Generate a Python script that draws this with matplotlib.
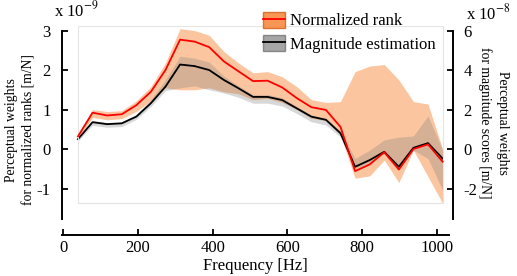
import numpy as np
import matplotlib
matplotlib.use('Agg')
import matplotlib.pyplot as plt
from matplotlib.patches import Rectangle, Patch
from matplotlib.lines import Line2D

plt.rcParams['font.family'] = ['Liberation Serif', 'DejaVu Serif']
plt.rcParams['mathtext.fontset'] = 'stix'
plt.rcParams['axes.unicode_minus'] = False

# Frequencies [Hz]
freq = [40, 79, 118, 157, 196, 235, 274, 313, 352, 391, 430, 469, 508,
        547, 586, 625, 664, 703, 742, 781, 820, 859, 898, 937, 976, 1015]

# Normalized rank weights (x 1e-9 m/N), left axis
rank_mean = [0.32, 0.92, 0.85, 0.88, 1.11, 1.45, 2.00, 2.77, 2.72, 2.58, 2.22, 1.97, 1.72,
             1.73, 1.56, 1.29, 1.06, 0.99, 0.56, -0.56, -0.39, -0.08, -0.52, 0.00, 0.12, -0.32]
rank_hi = [0.37, 1.00, 0.95, 0.97, 1.22, 1.58, 2.18, 3.05, 3.00, 2.88, 2.47, 2.18, 1.93,
           1.96, 1.83, 1.58, 1.25, 1.18, 1.20, 1.96, 2.10, 2.14, 1.75, 1.20, 1.14, 0.00]
rank_lo = [0.27, 0.80, 0.74, 0.77, 0.95, 1.22, 1.55, 1.50, 1.50, 1.55, 1.45, 1.40, 1.25,
           1.28, 1.18, 1.00, 0.78, 0.72, 0.35, -0.74, -0.68, -0.28, -0.85, -0.03, -0.70, -1.37]

# Magnitude estimation weights (x 1e-8 m/N), right axis
mag_mean = [0.50, 1.36, 1.26, 1.30, 1.64, 2.32, 3.16, 4.28, 4.20, 4.00, 3.50, 3.08, 2.64,
            2.64, 2.48, 2.06, 1.64, 1.48, 0.80, -0.90, -0.56, -0.14, -0.90, 0.06, 0.30, -0.48]
mag_hi = [0.56, 1.44, 1.34, 1.38, 1.76, 2.50, 3.50, 4.70, 4.60, 4.40, 3.70, 3.20, 2.76,
          2.76, 2.60, 2.16, 1.72, 1.56, 0.90, -0.48, -0.06, 0.46, 0.60, 0.66, 1.68, -0.06]
mag_lo = [0.40, 1.20, 1.10, 1.14, 1.50, 2.16, 2.96, 3.10, 3.20, 3.00, 2.84, 2.62, 2.32,
          2.32, 2.18, 1.80, 1.38, 1.22, 0.60, -1.00, -0.66, -0.24, -1.00, -0.06, -0.48, -2.08]

orange = (0.97, 0.55, 0.25)
gray = (0.5, 0.5, 0.5)

fig = plt.figure(figsize=(5.17, 2.76), dpi=100)
ax = fig.add_axes([0.1197, 0.2054, 0.7494, 0.6996])
ax2 = ax.twinx()
ax.set_zorder(ax2.get_zorder() + 1)
ax.patch.set_visible(False)

ylo, yhi = -1.78, 3.11
ax.set_xlim(-3, 1033)
ax.set_ylim(ylo, yhi)
ax2.set_ylim(2 * ylo, 2 * yhi)

# bands (the rank band is drawn on the right axis, scaled by 2)
ax2.fill_between(freq, np.array(rank_lo) * 2, np.array(rank_hi) * 2, color=orange,
                 alpha=0.5, lw=0, zorder=1)
ax2.fill_between(freq, mag_lo, mag_hi, color=gray, alpha=0.3, lw=0, zorder=2)

# faint data box
ax.add_patch(Rectangle((freq[0], -1.37), freq[-1] - freq[0], 1.37 + 3.11,
                       fill=False, ec='#e4e4e4', lw=0.8, zorder=0))

ax.plot(freq, rank_mean, color='red', lw=1.3, zorder=5)
ax2.plot(freq, mag_mean, color='black', lw=1.3, zorder=4)

for a in (ax, ax2):
    a.spines['top'].set_visible(False)
    a.tick_params(direction='in', length=4, width=1.3, labelsize=12)
ax.spines['right'].set_visible(False)
ax2.spines['left'].set_visible(False)
ax2.spines['bottom'].set_visible(False)
ax.spines['left'].set_linewidth(1.4)
ax.spines['bottom'].set_linewidth(1.4)
ax2.spines['right'].set_linewidth(1.4)
ax.spines['left'].set_bounds(ylo, 3)
ax2.spines['right'].set_bounds(2 * ylo, 6)
ax.spines['bottom'].set_position(('outward', 11))
ax.spines['bottom'].set_bounds(-3, 1033)
ax2.spines['right'].set_position(('outward', 3))

ax.set_xticks([0, 200, 400, 600, 800, 1000])
ax.set_yticks([-1, 0, 1, 2, 3])
ax2.set_yticks([-2, 0, 2, 4, 6])
ax.tick_params(axis='y', pad=8)
ax2.tick_params(axis='y', pad=7)
ax.tick_params(axis='x', pad=4)

ax.set_xlabel('Frequency [Hz]', fontsize=12, labelpad=1)
fig.text(0.039, 0.529, 'Perceptual weights\nfor normalized ranks [m/N]', rotation=90,
         ha='center', va='center', fontsize=9.8, linespacing=1.4)
fig.text(0.955, 0.556, 'Perceptual weights\nfor magnitude scores [m/N]', rotation=270,
         ha='center', va='center', fontsize=9.8, linespacing=1.4)
fig.text(0.104, 0.925, r'x 10$^{-9}$', fontsize=12, ha='left', va='bottom')
fig.text(0.902, 0.915, r'x 10$^{-8}$', fontsize=12, ha='left', va='bottom')

handles = [(Patch(fc=orange, ec=(0.85, 0.4, 0.15), alpha=0.9), Line2D([], [], color='red', lw=1.3)),
           (Patch(fc=gray, ec=(0.4, 0.4, 0.4), alpha=0.7), Line2D([], [], color='black', lw=1.3))]
ax.legend(handles, ['Normalized rank', 'Magnitude estimation'], loc='upper left',
          bbox_to_anchor=(0.519, 1.075), frameon=False, fontsize=12, handlelength=1.3,
          handleheight=1.1, handletextpad=0.35, labelspacing=0.35, borderaxespad=0,
          borderpad=0)

fig.savefig('out.png', dpi=100)
